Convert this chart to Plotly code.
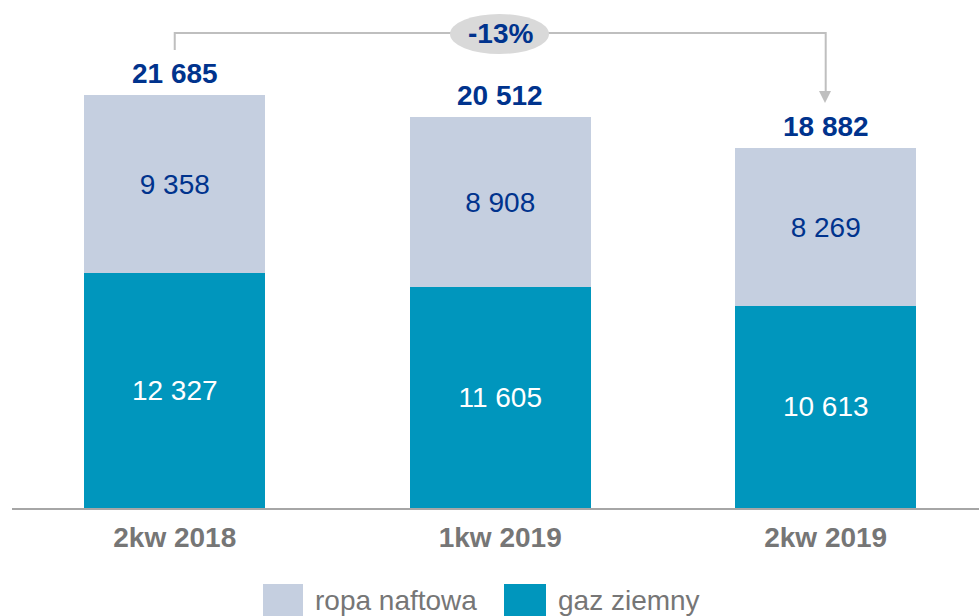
import plotly.graph_objects as go

categories = ["2kw 2018", "1kw 2019", "2kw 2019"]
gaz_ziemny = [12327, 11605, 10613]
ropa_naftowa = [9358, 8908, 8269]
totals = [21685, 20512, 18882]
change_label = "-13%"

FONT = "Liberation Sans, Arial, sans-serif"
LIGHT = "#c5cfe0"
TEAL = "#0096bd"
DARK = "#00338d"
GREY = "#767676"

W, H = 979, 616
ML, MT, MB = 12, 0, 108
PH = H - MT - MB  # plot height in px


def py(p):
    """pixel y -> paper y"""
    return 1 - (p - MT) / PH


def px(p):
    return (p - ML) / (W - ML)


fig = go.Figure()
fig.add_trace(go.Bar(
    x=list(range(len(categories))), y=gaz_ziemny, name="gaz ziemny",
    marker=dict(color=TEAL, line=dict(width=0)), width=0.556,
    texttemplate="%{y:,}", textposition="inside", insidetextanchor="middle",
    textfont=dict(color="white", size=28, family=FONT), showlegend=False,
))
fig.add_trace(go.Bar(
    x=list(range(len(categories))), y=ropa_naftowa, name="ropa naftowa",
    marker=dict(color=LIGHT, line=dict(width=0)), width=0.556,
    texttemplate="%{y:,}", textposition="inside", insidetextanchor="middle",
    textfont=dict(color=DARK, size=28, family=FONT), showlegend=False,
))

annotations = []
for i, t in enumerate(totals):
    annotations.append(dict(
        x=i, y=t, xref="x", yref="y", text="<b>" + f"{t:,}".replace(",", " ") + "</b>",
        showarrow=False, yanchor="middle", yshift=22,
        font=dict(size=28, color=DARK, family=FONT),
    ))

shapes = []
# bracket
line_y = py(33)
shapes.append(dict(type="path", xref="x", yref="paper",
                   path=f"M 0,{py(50)} L 0,{line_y} L 2,{line_y} L 2,{py(92)}",
                   line=dict(color="#bfbfbf", width=2)))
# arrowhead
shapes.append(dict(type="path", xref="paper", yref="paper",
                   path=f"M {px(819)},{py(91)} L {px(831)},{py(91)} L {px(825)},{py(103)} Z",
                   fillcolor="#bfbfbf", line=dict(width=0)))
# ellipse
shapes.append(dict(type="circle", xref="paper", yref="paper",
                   x0=px(450), x1=px(549), y0=py(14), y1=py(54),
                   fillcolor="#d9d9d9", line=dict(width=0)))
annotations.append(dict(x=1, y=py(34), xref="x", yref="paper", text="<b>" + change_label + "</b>",
                        showarrow=False, yanchor="middle", xanchor="center",
                        font=dict(size=28, color=DARK, family=FONT)))

# legend (custom)
legend_items = [("ropa naftowa", LIGHT, 263, 303), ("gaz ziemny", TEAL, 504, 546)]
for name, col, x0, x1 in legend_items:
    shapes.append(dict(type="rect", xref="paper", yref="paper",
                       x0=px(x0), x1=px(x1), y0=py(616), y1=py(584),
                       fillcolor=col, line=dict(width=0)))
    annotations.append(dict(x=px(x1 + 10), y=py(600), xref="paper", yref="paper",
                            text=name, showarrow=False, xanchor="left", yanchor="middle",
                            font=dict(size=28, color=GREY, family=FONT)))

fig.update_layout(
    width=W, height=H,
    margin=dict(l=ML, r=0, t=MT, b=MB, pad=0),
    paper_bgcolor="white", plot_bgcolor="white",
    barmode="stack", separators=", ",
    showlegend=False,
    annotations=annotations, shapes=shapes,
    xaxis=dict(range=[-0.5, 2.471], tickmode="array", tickvals=list(range(len(categories))),
               ticktext=["<b>" + c + "</b>" for c in categories],
               tickfont=dict(size=28, color=GREY, family=FONT),
               showline=True, linecolor="#a6a6a6", linewidth=2,
               showgrid=False, zeroline=False, ticks="", ticklabelstandoff=3),
    yaxis=dict(range=[0, 26674], visible=False, showgrid=False, zeroline=False),
    uniformtext=dict(mode=False),
)

fig.write_html("out.html", config={"displayModeBar": False},
               post_script="document.body.style.margin='0';document.body.style.overflow='hidden';")
